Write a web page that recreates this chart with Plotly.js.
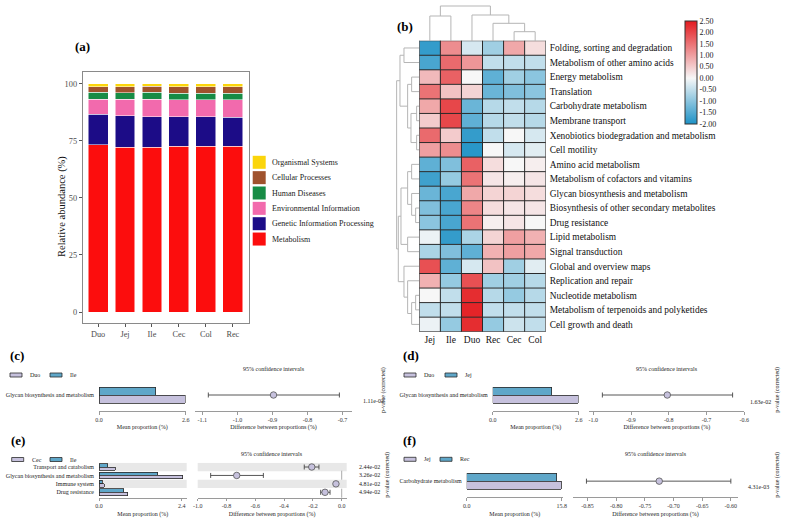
<!DOCTYPE html>
<html><head><meta charset="utf-8">
<script src="https://cdn.plot.ly/plotly-3.0.1.min.js"></script>
<style>html,body{margin:0;padding:0;background:#fff}#chart{width:786px;height:523px}</style>
</head><body><div id="chart"></div>
<script>
// ================= DATA =================
// (a) relative abundance of KEGG level-1 categories (%)
const samplesA = ['Duo','Jej','Ile','Cec','Col','Rec'];
const metabolism        = [73.2,72.2,72.2,72.6,72.6,72.6];
const geneticInfo       = [13.5,13.7,13.4,13.0,13.0,12.8];
const environmentalInfo = [6.6,7.4,7.7,7.4,7.4,7.6];
const humanDiseases     = [2.9,2.8,2.9,2.9,2.9,2.8];
const cellularProcesses = [2.5,2.6,2.8,2.8,2.8,2.9];
const organismalSystems = [1.3,1.3,1.0,1.3,1.3,1.3];
const yTicksA = [0,25,50,75,100];

// (b) heatmap (row z-scores)
const heatCols = ['Jej','Ile','Duo','Rec','Cec','Col'];
const heatRows = ['Folding, sorting and degradation','Metabolism of other amino acids','Energy metabolism','Translation',
 'Carbohydrate metabolism','Membrane transport','Xenobiotics biodegradation and metabolism','Cell motility',
 'Amino acid metabolism','Metabolism of cofactors and vitamins','Glycan biosynthesis and metabolism',
 'Biosynthesis of other secondary metabolites','Drug resistance','Lipid metabolism','Signal transduction',
 'Global and overview maps','Replication and repair','Nucleotide metabolism','Metabolism of terpenoids and polyketides',
 'Cell growth and death'];
const heatZ = [
 [-1.8, 1.2,-0.3,-0.8, 0.9, 0.3],
 [-1.6, 1.6, 1.1,-0.5,-0.5,-0.5],
 [ 0.7, 1.7, 0.0,-1.4,-0.8,-1.0],
 [ 1.5, 0.6, 0.4,-1.3,-1.1,-1.0],
 [ 0.9, 2.0,-1.3,-0.6,-0.5,-0.6],
 [ 0.5, 2.0,-1.4,-0.6,-0.5,-0.6],
 [ 1.6, 0.5,-1.8,-0.5, 0.0,-0.3],
 [ 1.0, 1.2,-1.9, 0.0,-0.3,-0.2],
 [-1.4,-1.1, 1.7, 0.3, 0.0, 0.1],
 [-1.7,-0.9, 1.5, 0.2, 0.1, 0.2],
 [-1.3,-1.6, 0.9, 0.4, 0.4, 0.3],
 [-1.1,-1.6, 1.3, 0.3, 0.2, 0.2],
 [-1.0,-1.6, 1.5, 0.1, 0.2, 0.0],
 [-0.1,-1.8,-0.7, 0.4, 1.0, 0.8],
 [-0.7,-1.1,-1.4, 0.8, 1.0, 0.9],
 [ 1.9,-1.4,-0.3, 0.6,-0.8,-0.2],
 [ 0.8,-0.9, 1.9,-0.8,-0.8,-0.6],
 [ 0.0,-0.5, 2.3,-0.6,-0.9,-0.6],
 [-0.5,-0.5, 2.4,-0.5,-0.5,-0.5],
 [-0.1,-0.9, 2.3,-0.9,-0.4,-0.5]];
const cbTicks = [2.5,2.0,1.5,1.0,0.5,0.0,-0.5,-1.0,-1.5,-2.0];
// dendrogram merges: [childA, childB, height]; leaves 0..n-1, merged node ids continue from n
const colMerges = [[4,5,9.0],[3,6,17.4],[2,7,25.7],[0,1,24.7],[9,8,34.7]];
const rowMerges = [[0,1,46],[2,3,23],[4,5,8],[6,7,8],[22,23,25],[21,24,35],[20,25,58],
 [8,9,23],[11,12,11],[10,28,23],[27,29,35],[13,14,35],[30,31,55],
 [17,18,11],[33,19,23],[16,34,35],[15,35,46],[32,36,63],[26,37,68]];

// (c) Duo vs Ile
const cFeatures = ['Glycan biosynthesis and metabolism'];
const cMeanDuo = [2.58], cMeanIle = [1.70];
const cDiff = [-0.897], cLow = [-1.083], cHigh = [-0.709], cP = ['1.11e-02'];
const cCiTicks = [-1.1,-1.0,-0.9,-0.8,-0.7];
// (d) Duo vs Jej
const dFeatures = ['Glycan biosynthesis and metabolism'];
const dMeanDuo = [2.59], dMeanJej = [1.78];
const dDiff = [-0.804], dLow = [-0.976], dHigh = [-0.631], dP = ['1.63e-02'];
const dCiTicks = [-1.0,-0.9,-0.8,-0.7,-0.6];
// (e) Cec vs Ile
const eFeatures = ['Transport and catabolism','Glycan biosynthesis and metabolism','Immune system','Drug resistance'];
const eMeanCec = [0.47,2.43,0.145,0.83], eMeanIle = [0.26,1.70,0.10,0.72];
const eDiff = [-0.208,-0.729,-0.04,-0.116], eLow = [-0.26,-0.91,-0.05,-0.146], eHigh = [-0.158,-0.544,-0.03,-0.081];
const eP = ['2.44e-02','3.26e-02','4.81e-02','4.94e-02'];
const eCiTicks = [-1.0,-0.8,-0.6,-0.4,-0.2,0.0];
// (f) Jej vs Rec
const fFeatures = ['Carbohydrate metabolism'];
const fMeanJej = [15.76], fMeanRec = [15.0];
const fDiff = [-0.725], fLow = [-0.852], fHigh = [-0.60], fP = ['4.31e-03'];
const fCiTicks = [-0.85,-0.80,-0.75,-0.70,-0.65,-0.60];

// ================= DRAWING =================
const W = 786, H = 523;
const fx = p => p / W, fy = p => 1 - p / H;
const FONT = 'Liberation Serif, "Times New Roman", serif';
const PURPLE = '#C6C1DD', BLUE = '#5FA7C9';
const traces = [], shapes = [], annotations = [];
const layout = {
  width: W, height: H, margin: {l:0, r:0, t:0, b:0},
  paper_bgcolor: '#fff', plot_bgcolor: '#fff', barmode: 'stack',
  font: {family: FONT, color: '#222'}, showlegend: false
};
function note(text, xpx, ypx, size, extra) {
  annotations.push(Object.assign({text: text, xref: 'paper', yref: 'paper', x: fx(xpx), y: fy(ypx),
    xanchor: 'center', yanchor: 'middle', showarrow: false,
    font: {size: size, family: FONT, color: '#222'}}, extra || {}));
}

// ---- (a) stacked bars ----
const catsA = [
  ['Metabolism', metabolism, '#FC0D0D'],
  ['Genetic Information Processing', geneticInfo, '#1C0C87'],
  ['Environmental Information', environmentalInfo, '#F26AAD'],
  ['Human Diseases', humanDiseases, '#178C45'],
  ['Cellular Processes', cellularProcesses, '#A0522D'],
  ['Organismal Systems', organismalSystems, '#FBD50B']];
catsA.forEach(([name, vals, col]) => traces.push({
  type: 'bar', x: samplesA, y: vals, name: name, xaxis: 'x', yaxis: 'y',
  marker: {color: col, line: {color: '#ffffff', width: 0.5}}}));
// legend for (a): top item = last category
catsA.slice().reverse().forEach(([name, vals, col], k) => {
  const yc = 162.3 + k * 15.35;
  shapes.push({type: 'rect', xref: 'paper', yref: 'paper', x0: fx(252.7), x1: fx(265.7), y0: fy(yc + 6.5), y1: fy(yc - 6.5),
    fillcolor: col, line: {width: 0}});
  note(name, 270, yc, 8, {xanchor: 'left'});
});
const axStyleA = {showline: true, mirror: true, linecolor: '#8a8a8a', linewidth: 1, ticks: 'outside', ticklen: 3,
  tickcolor: '#555', tickfont: {size: 8.3, color: '#4d4d4d', family: FONT}, showgrid: false, zeroline: false};
layout.xaxis = Object.assign({domain: [fx(82.7), fx(249)], range: [-0.57, 5.6], anchor: 'y', type: 'category'}, axStyleA);
layout.yaxis = Object.assign({domain: [fy(323), fy(72.3)], range: [-4.8, 105], anchor: 'x', tickvals: yTicksA}, axStyleA);
layout.bargap = 0.26;
note('Relative abundance (%)', 62, 207, 10.5, {textangle: -90, font: {size: 10.5, family: FONT, color: '#111'}});

// ---- (b) heatmap with dendrograms ----
traces.push({type: 'heatmap', x: heatCols, y: heatRows, z: heatZ, xaxis: 'x2', yaxis: 'y2',
  zmin: -2, zmax: 2.5, showscale: true,
  colorscale: [[0, '#1E92C6'], [2/4.5, '#F7F7F7'], [1, '#E31B1F']],
  colorbar: {x: fx(685), xanchor: 'left', y: fy(72.4), yanchor: 'middle', len: 103.3 / H, lenmode: 'fraction',
    thickness: 12, thicknessmode: 'pixels', outlinewidth: 1, outlinecolor: '#333', xpad: 0, ypad: 0,
    tickvals: cbTicks, ticktext: cbTicks.map(v => v.toFixed(2)), ticks: '', ticklabelstandoff: 3,
    tickfont: {size: 8, family: FONT, color: '#222'}},
  showlegend: false, hovertemplate: '%{y} / %{x}: %{z}<extra></extra>'});
layout.xaxis2 = {domain: [fx(419.3), fx(545.7)], range: [-0.5, 5.5], anchor: 'y2', type: 'category', ticks: '',
  showgrid: false, zeroline: false, showline: false, tickfont: {size: 9.5, family: FONT, color: '#111'}, ticklabelstandoff: 1};
layout.yaxis2 = {domain: [fy(331.7), fy(40.7)], range: [heatRows.length - 0.5, -0.5], anchor: 'x2', type: 'category',
  side: 'right', ticks: '', showgrid: false, zeroline: false, showline: false,
  tickfont: {size: 9.4, family: FONT, color: '#111'}, ticklabelstandoff: 3};
for (let i = 0; i <= heatCols.length; i++) shapes.push({type: 'line', xref: 'x2', yref: 'y2 domain',
  x0: i - 0.5, x1: i - 0.5, y0: 0, y1: 1, line: {color: '#2a2a2a', width: 1}});
for (let j = 0; j <= heatRows.length; j++) shapes.push({type: 'line', xref: 'x2 domain', yref: 'y2',
  x0: 0, x1: 1, y0: j - 0.5, y1: j - 0.5, line: {color: '#2a2a2a', width: 1}});

function dendro(nLeaves, merges) {
  const pos = [], ht = [], P = [], Hh = [];
  for (let i = 0; i < nLeaves; i++) { pos.push(i); ht.push(0); }
  merges.forEach(([a, b, h]) => {
    P.push(pos[a], pos[a], pos[b], pos[b], null);
    Hh.push(ht[a], h, h, ht[b], null);
    pos.push((pos[a] + pos[b]) / 2); ht.push(h);
  });
  return {P, Hh};
}
const cd = dendro(heatCols.length, colMerges);
traces.push({type: 'scatter', mode: 'lines', x: cd.P, y: cd.Hh, xaxis: 'x3', yaxis: 'y3',
  line: {color: '#b5b5b5', width: 1}, showlegend: false, hoverinfo: 'skip'});
layout.xaxis3 = {domain: [fx(419.3), fx(545.7)], range: [-0.5, 5.5], anchor: 'y3', visible: false};
layout.yaxis3 = {domain: [fy(40.7), fy(2)], range: [0, 38.7], anchor: 'x3', visible: false};
const rd = dendro(heatRows.length, rowMerges);
traces.push({type: 'scatter', mode: 'lines', x: rd.Hh, y: rd.P, xaxis: 'x4', yaxis: 'y4',
  line: {color: '#b5b5b5', width: 1}, showlegend: false, hoverinfo: 'skip'});
layout.xaxis4 = {domain: [fx(395.3), fx(419.3)], range: [72, 0], anchor: 'y4', visible: false};
layout.yaxis4 = {domain: [fy(331.7), fy(40.7)], range: [heatRows.length - 0.5, -0.5], anchor: 'x4', visible: false};

// ---- (c)-(f) extended error bar panels ----
function addStamp(s) {
  const n = s.n, bx = 'x' + n, by = 'y' + n, cx = 'x' + (n + 1), cy = 'y' + (n + 1);
  const idx = s.features.map((_, i) => i), half = s.barW / 2;
  traces.push({type: 'bar', orientation: 'h', x: s.mean2, y: idx.map(i => i - half), width: s.barW,
    xaxis: bx, yaxis: by, name: s.g2, showlegend: false, marker: {color: BLUE, line: {color: '#2b2b2b', width: 0.8}}});
  traces.push({type: 'bar', orientation: 'h', x: s.mean1, y: idx.map(i => i + half), width: s.barW,
    xaxis: bx, yaxis: by, name: s.g1, showlegend: false, marker: {color: PURPLE, line: {color: '#2b2b2b', width: 0.8}}});
  traces.push({type: 'scatter', mode: 'markers', x: s.diff, y: idx, xaxis: cx, yaxis: cy, showlegend: false,
    marker: {size: 6.5, color: PURPLE, line: {color: '#555', width: 0.8}},
    error_x: {type: 'data', symmetric: false, array: s.hi.map((h, i) => h - s.diff[i]),
      arrayminus: s.diff.map((d, i) => d - s.lo[i]), color: '#444', thickness: 0.9, width: 2.5}});
  const yDom = [fy(s.yPx[1]), fy(s.yPx[0])];
  const xStyle = {showline: true, linecolor: '#9a9a9a', linewidth: 1, ticks: 'outside', ticklen: 2.5, tickcolor: '#9a9a9a',
    tickfont: {size: 6, family: FONT, color: '#333'}, showgrid: false, zeroline: false};
  layout['xaxis' + n] = Object.assign({domain: [fx(s.barPx[0]), fx(s.barPx[1])], range: s.barRange, anchor: by,
    tickvals: s.barTicks, ticktext: s.barTicks.map(v => v.toFixed(1)),
    title: {text: 'Mean proportion (%)', font: {size: 6, family: FONT, color: '#222'}, standoff: 3}}, xStyle);
  layout['yaxis' + n] = {domain: yDom, range: s.yRange, anchor: bx, tickvals: idx, ticktext: s.features, ticks: '',
    showline: false, showgrid: false, zeroline: false, ticklabelstandoff: 4, tickfont: {size: 6, family: FONT, color: '#222'}};
  layout['xaxis' + (n + 1)] = Object.assign({domain: [fx(s.ciPx[0]), fx(s.ciPx[1])], range: s.ciRange, anchor: cy,
    tickvals: s.ciTicks, ticktext: s.ciTicks.map(v => v.toFixed(s.ciDec)),
    title: {text: 'Difference between proportions (%)', font: {size: 6, family: FONT, color: '#222'}, standoff: 3}}, xStyle);
  layout['yaxis' + (n + 1)] = {domain: yDom, range: s.yRange, anchor: cx, visible: false};
  if (s.bands) idx.filter(i => i % 2 === 0).forEach(i => {
    [bx, cx].forEach((ax, k) => shapes.push({type: 'rect', layer: 'below', xref: ax + ' domain', yref: k ? cy : by,
      x0: 0, x1: 1, y0: i - 0.5, y1: i + 0.5, fillcolor: '#E8E8E8', line: {width: 0}}));
  });
  if (s.zero) shapes.push({type: 'line', xref: cx, yref: cy + ' domain', x0: 0, x1: 0, y0: 0, y1: 1,
    line: {color: '#aaa', width: 1, dash: 'dash'}});
  // texts
  note(s.letter, s.letterPx[0], s.letterPx[1], 13, {xanchor: 'left', font: {size: 13, family: FONT, color: '#000', weight: 'bold'}});
  note('95% confidence intervals', (s.ciPx[0] + s.ciPx[1]) / 2, s.ciTitleY, 6);
  s.pv.forEach((p, i) => annotations.push({text: p, xref: 'paper', yref: cy, x: fx(s.pX), y: i + s.pOff,
    xanchor: 'center', yanchor: 'middle', showarrow: false, font: {size: 6, family: FONT, color: '#222'}}));
  note('p-value (corrected)', s.pTitle[0], s.pTitle[1], 6, {textangle: -90});
  // legend swatches (group1 purple first, then group2 blue)
  [[s.g1, PURPLE, s.leg[0]], [s.g2, BLUE, s.leg[1]]].forEach(([g, col, x0]) => {
    shapes.push({type: 'rect', xref: 'paper', yref: 'paper', x0: fx(x0), x1: fx(x0 + 12), y0: fy(s.legY + 2), y1: fy(s.legY - 2),
      fillcolor: col, line: {color: '#2b2b2b', width: 0.8}});
    note(g, x0 + 18, s.legY, 6, {xanchor: 'left'});
  });
}
addStamp({n: 5, letter: '(c)', letterPx: [8, 355], features: cFeatures, g1: 'Duo', g2: 'Ile',
  mean1: cMeanDuo, mean2: cMeanIle, diff: cDiff, lo: cLow, hi: cHigh, pv: cP,
  barPx: [99, 185.7], barRange: [0, 2.6], barTicks: [0, 2.6], ciPx: [195, 352], ciRange: [-1.121, -0.673],
  ciTicks: cCiTicks, ciDec: 1, yPx: [379, 411], yRange: [0.5, -0.5], barW: 0.25, ciTitleY: 369.3,
  pX: 373, pOff: 0.19, pTitle: [383, 390], leg: [10, 50], legY: 375, bands: false, zero: false});
addStamp({n: 7, letter: '(d)', letterPx: [401, 355], features: dFeatures, g1: 'Duo', g2: 'Jej',
  mean1: dMeanDuo, mean2: dMeanJej, diff: dDiff, lo: dLow, hi: dHigh, pv: dP,
  barPx: [492.7, 578.7], barRange: [0, 2.6], barTicks: [0, 2.6], ciPx: [589.3, 744.3], ciRange: [-1.0106, -0.6],
  ciTicks: dCiTicks, ciDec: 1, yPx: [379, 411], yRange: [0.5, -0.5], barW: 0.25, ciTitleY: 369.3,
  pX: 760.8, pOff: 0.21, pTitle: [776.7, 390], leg: [404, 445], legY: 375, bands: false, zero: false});
addStamp({n: 9, letter: '(e)', letterPx: [9, 440], features: eFeatures, g1: 'Cec', g2: 'Ile',
  mean1: eMeanCec, mean2: eMeanIle, diff: eDiff, lo: eLow, hi: eHigh, pv: eP,
  barPx: [99, 186.7], barRange: [0, 2.545], barTicks: [0, 2.4], ciPx: [197.7, 346.7], ciRange: [-1.0, 0.0347],
  ciTicks: eCiTicks, ciDec: 1, yPx: [462.8, 497.7], yRange: [3.64, -0.5], barW: 0.4, ciTitleY: 454.3,
  pX: 369, pOff: 0, pTitle: [386.7, 475], leg: [11.7, 50], legY: 459.5, bands: true, zero: true});
addStamp({n: 11, letter: '(f)', letterPx: [401, 440], features: fFeatures, g1: 'Jej', g2: 'Rec',
  mean1: fMeanJej, mean2: fMeanRec, diff: fDiff, lo: fLow, hi: fHigh, pv: fP,
  barPx: [466.7, 563], barRange: [0, 16.02], barTicks: [0, 15.8], ciPx: [572.7, 738.3], ciRange: [-0.876, -0.587],
  ciTicks: fCiTicks, ciDec: 2, yPx: [465, 497.3], yRange: [0.5, -0.5], barW: 0.25, ciTitleY: 454.3,
  pX: 758, pOff: 0.18, pTitle: [776.7, 475], leg: [404, 440], legY: 459.3, bands: false, zero: false});

// panel letters (a), (b)
note('(a)', 73, 47, 13, {xanchor: 'left', font: {size: 13, family: FONT, color: '#000', weight: 'bold'}});
note('(b)', 395, 26.7, 13, {xanchor: 'left', font: {size: 13, family: FONT, color: '#000', weight: 'bold'}});

layout.shapes = shapes;
layout.annotations = annotations;
Plotly.newPlot('chart', traces, layout, {displayModeBar: false, staticPlot: true});
</script></body></html>
